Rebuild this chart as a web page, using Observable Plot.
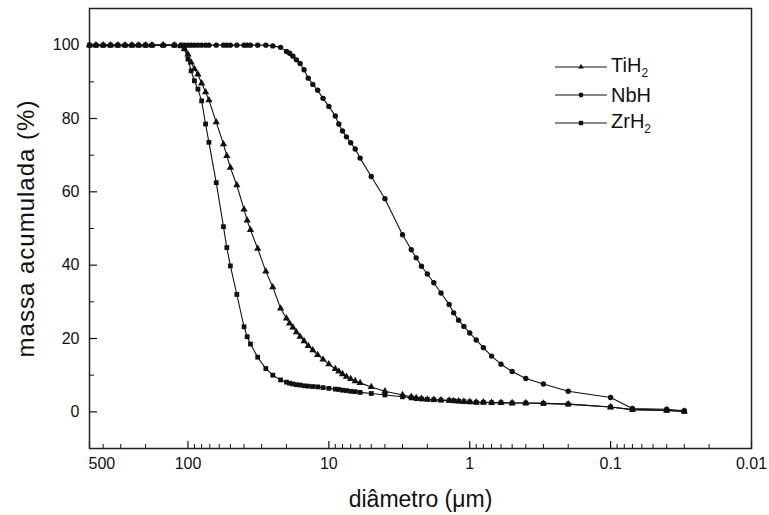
<!DOCTYPE html>
<html>
<head>
<meta charset="utf-8">
<script src="https://cdn.jsdelivr.net/npm/d3@7"></script>
<script src="https://cdn.jsdelivr.net/npm/@observablehq/plot@0.6"></script>
<style>
  body { margin: 0; background: #fff; }
  #wrap { position: relative; width: 769px; height: 515px; font-family: "Liberation Sans", Arial, sans-serif; }
  #legend { position: absolute; left: 555px; top: 53px; font-size: 20px; color: #111; }
  #legend .row { display: flex; align-items: center; height: 28px; }
  #legend svg { margin-right: 4px; }
  #legend sub { font-size: 12px; vertical-align: -5px; }
  svg [aria-label="x-axis label"] { font-size: 23px; }
  svg [aria-label="y-axis label"] { font-size: 24px; letter-spacing: 1px; }
</style>
</head>
<body>
<div id="wrap"><div id="legend"></div></div>
<script>
// Diameter classes (µm)
const diametro = [500, 450, 400, 355, 315, 280, 250, 224, 200, 180,
  150, 125, 112, 106, 100, 95, 90, 85, 80, 75,
  71, 63, 56, 53, 50, 45, 40, 38, 36, 32,
  28, 25, 22, 20, 19, 18, 17, 16, 15, 14,
  13, 12, 11, 10, 9, 8.5, 8, 7.5, 7, 6.5,
  6, 5, 4, 3, 2.6, 2.4, 2.2, 2.0, 1.8, 1.6,
  1.4, 1.3, 1.2, 1.1, 1.0, 0.9, 0.8, 0.7, 0.6, 0.5,
  0.4, 0.3, 0.2, 0.1, 0.07, 0.04, 0.03];

// Cumulative mass (%)
const tiH2 = [100, 100, 100, 100, 100, 100, 100, 100, 100, 100,
  100, 100, 99.8, 99.0, 97.5, 95.3, 93.5, 92.0, 89.6, 87.2,
  85.0, 79.0, 73.0, 69.8, 66.6, 61.8, 55.2, 52.2, 49.6, 44.5,
  38.3, 34.0, 28.2, 25.5, 24.1, 23.0, 21.7, 20.5, 19.3, 18.0,
  16.8, 15.5, 14.3, 13.0, 11.7, 11.0, 10.3, 9.6, 9.0, 8.4,
  7.9, 6.8, 5.6, 4.6, 4.1, 3.8, 3.6, 3.4, 3.3, 3.2,
  3.1, 3.0, 2.9, 2.8, 2.7, 2.6, 2.6, 2.5, 2.5, 2.4,
  2.4, 2.3, 2.1, 1.3, 0.6, 0.4, 0.1];

const nbH = [100, 100, 100, 100, 100, 100, 100, 100, 100, 100,
  100, 100, 100, 100, 100, 100, 100, 100, 100, 100,
  100, 100, 100, 100, 100, 100, 100, 100, 100, 100,
  100, 99.8, 99.4, 98.3, 97.8, 97.0, 96.0, 95.0, 93.3, 91.0,
  89.3, 87.7, 85.5, 83.3, 80.7, 78.5, 76.6, 75.0, 73.4, 71.7,
  69.2, 64.2, 58.1, 48.3, 44.2, 42.0, 39.7, 37.6, 35.2, 32.4,
  29.3, 27.0, 25.0, 23.3, 21.5, 19.6, 17.5, 15.2, 13.0, 11.0,
  9.1, 7.6, 5.6, 3.9, 0.9, 0.7, 0.3];

const zrH2 = [100, 100, 100, 100, 100, 100, 100, 100, 100, 100,
  100, 100, 99.8, 99.0, 96.2, 93.0, 90.3, 88.0, 84.8, 78.5,
  73.5, 62.5, 50.5, 44.8, 39.8, 32.0, 23.2, 20.5, 18.5, 14.9,
  11.8, 10.0, 8.7, 8.1, 7.8, 7.6, 7.4, 7.3, 7.1, 7.0,
  6.9, 6.8, 6.6, 6.4, 6.2, 6.1, 5.9, 5.8, 5.6, 5.5,
  5.3, 5.0, 4.6, 4.1, 3.8, 3.6, 3.5, 3.4, 3.3, 3.2,
  3.1, 3.0, 2.9, 2.8, 2.7, 2.6, 2.6, 2.5, 2.5, 2.4,
  2.4, 2.3, 2.1, 1.3, 0.6, 0.4, 0.1];

const seriesNames = ["TiH2", "NbH", "ZrH2"];
const seriesLabels = ["TiH<sub>2</sub>", "NbH", "ZrH<sub>2</sub>"];
const seriesSymbols = ["triangle", "circle", "square"];

const xTickValues = [500, 100, 10, 1, 0.1, 0.01];
const xTickLabels = ["500", "100", "10", "1", "0.1", "0.01"];
const yTickValues = [0, 20, 40, 60, 80, 100];
const yMinorValues = [-10, 10, 30, 50, 70, 90, 110];

const seriesValues = [tiH2, nbH, zrH2];
const rows = seriesNames.flatMap((s, i) =>
  diametro.map((d, j) => ({serie: s, d, v: seriesValues[i][j]})));

const xMinor = [];
for (let k = -2; k <= 2; k++) for (let m = 2; m <= 9; m++) {
  const t = m * Math.pow(10, k);
  if (t >= 0.01 && t <= 500) xMinor.push(t);
}

const chart = Plot.plot({
  width: 769,
  height: 515,
  marginLeft: 89,
  marginRight: 18,
  marginTop: 8,
  marginBottom: 67,
  style: {fontFamily: "'Liberation Sans', Arial, sans-serif", color: "#111", background: "#fff", overflow: "visible"},
  x: {type: "log", domain: [500, 0.01]},
  y: {domain: [-10, 110]},
  symbol: {domain: seriesNames, range: seriesSymbols},
  marks: [
    // inward ticks
    Plot.axisX({ticks: xTickValues, tickSize: 7, dy: -7, text: null, label: null, strokeWidth: 1.2}),
    Plot.axisX({ticks: xMinor, tickSize: 4, dy: -4, text: null, label: null}),
    Plot.axisY({ticks: yTickValues, tickSize: 8, dx: 8, text: null, label: null, strokeWidth: 1.2}),
    Plot.axisY({ticks: yMinorValues, tickSize: 5, dx: 5, text: null, label: null}),
    // x tick labels (first one starts at the frame edge, as in the original)
    Plot.text(xTickValues.slice(0, 1), {x: d => d, text: (d, i) => xTickLabels[i], frameAnchor: "bottom",
      lineAnchor: "top", textAnchor: "start", dx: -1, dy: 9, fontSize: 16, fill: "#111"}),
    Plot.text(xTickValues.slice(1), {x: d => d, text: (d, i) => xTickLabels[i + 1], frameAnchor: "bottom",
      lineAnchor: "top", dy: 9, fontSize: 16, fill: "#111"}),
    // axis titles
    Plot.axisX({ticks: xTickValues, tickSize: 0, text: null,
      label: "diâmetro (μm)", labelAnchor: "center", labelOffset: 58, labelArrow: "none"}),
    Plot.axisY({ticks: yTickValues, tickSize: 0, tickPadding: 10, fontSize: 16,
      label: "massa acumulada (%)", labelAnchor: "center", labelOffset: 73, labelArrow: "none"}),
    Plot.frame({stroke: "#222", strokeWidth: 1.5}),
    Plot.line(rows, {x: "d", y: "v", z: "serie", stroke: "#111", strokeWidth: 1.1}),
    Plot.dot(rows, {x: "d", y: "v", symbol: "serie", fill: "#111", stroke: "none", r: 2.7})
  ]
});

const wrap = document.getElementById("wrap");
wrap.insertBefore(chart, wrap.firstChild);

const legend = document.getElementById("legend");
const symPaths = {
  triangle: "M0,-3.2L2.8,1.6L-2.8,1.6Z",
  circle: "M2.4,0A2.4,2.4,0,1,1,-2.4,0A2.4,2.4,0,1,1,2.4,0",
  square: "M-2.2,-2.2H2.2V2.2H-2.2Z"
};
seriesNames.forEach((s, i) => {
  const row = document.createElement("div");
  row.className = "row";
  row.innerHTML = `<svg width="52" height="10"><line x1="0" x2="52" y1="5" y2="5" stroke="#111" stroke-width="1"/>` +
    `<path transform="translate(26,5)" d="${symPaths[seriesSymbols[i]]}" fill="#111"/></svg><span>${seriesLabels[i]}</span>`;
  legend.appendChild(row);
});
</script>
</body>
</html>
